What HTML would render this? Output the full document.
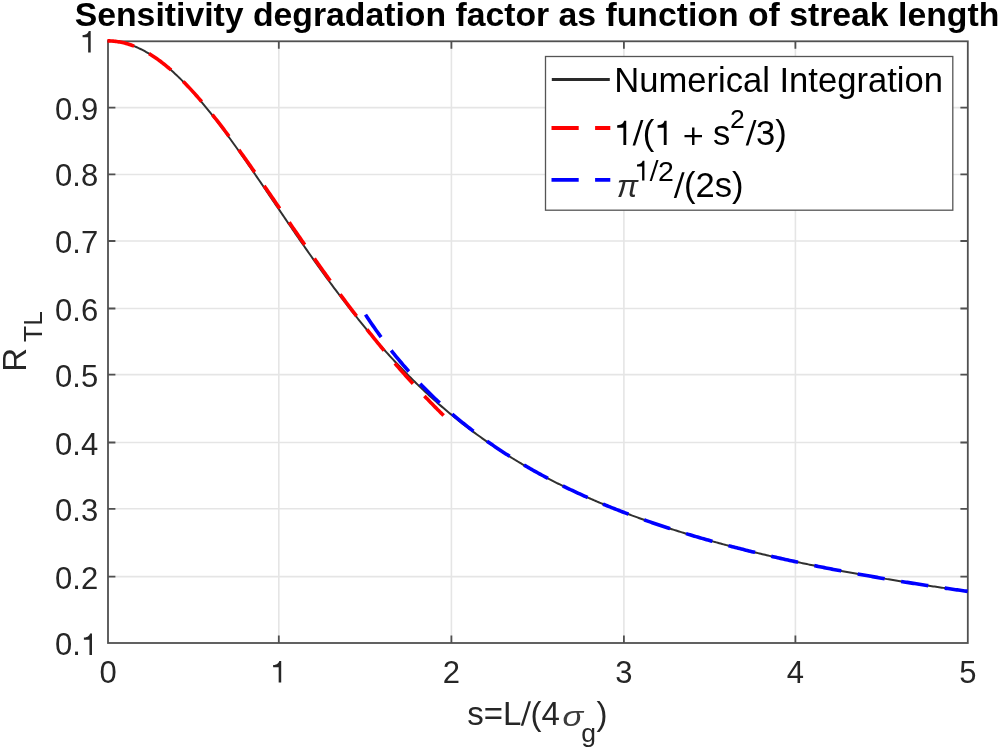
<!DOCTYPE html>
<html><head><meta charset="utf-8"><style>
html,body{margin:0;padding:0;background:#fff;}
svg{display:block;filter:blur(0.45px);}
text{font-family:"Liberation Sans",sans-serif;font-kerning:none;}
</style></head><body>
<svg width="999" height="749" viewBox="0 0 999 749">
<rect width="999" height="749" fill="#fff"/>
<path d="M278.80,41.30V643.00 M451.40,41.30V643.00 M623.90,41.30V643.00 M795.40,41.30V643.00 M108.00,576.60H967.80 M108.00,508.80H967.80 M108.00,442.50H967.80 M108.00,374.60H967.80 M108.00,308.50H967.80 M108.00,241.00H967.80 M108.00,174.45H967.80 M108.00,107.66H967.80" stroke="#e5e5e5" stroke-width="1.6" fill="none"/>
<g fill="none" stroke="#505050" stroke-width="1.8">
<path d="M278.80,643.00v-7.40 M278.80,41.30v7.40 M451.40,643.00v-7.40 M451.40,41.30v7.40 M623.90,643.00v-7.40 M623.90,41.30v7.40 M795.40,643.00v-7.40 M795.40,41.30v7.40 M108.00,576.60h7.40 M967.80,576.60h-7.40 M108.00,508.80h7.40 M967.80,508.80h-7.40 M108.00,442.50h7.40 M967.80,442.50h-7.40 M108.00,374.60h7.40 M967.80,374.60h-7.40 M108.00,308.50h7.40 M967.80,308.50h-7.40 M108.00,241.00h7.40 M967.80,241.00h-7.40 M108.00,174.45h7.40 M967.80,174.45h-7.40 M108.00,107.66h7.40 M967.80,107.66h-7.40"/>
<rect x="108.00" y="41.30" width="859.80" height="601.70"/>
</g>
<path d="M107.46,40.85 L108.90,40.87 L110.33,40.91 L111.77,40.99 L113.20,41.10 L114.64,41.24 L116.08,41.41 L117.51,41.61 L118.95,41.84 L120.38,42.11 L121.82,42.40 L123.26,42.73 L124.69,43.08 L126.13,43.47 L127.56,43.88 L129.00,44.33 L130.44,44.81 L131.87,45.31 L133.31,45.85 L134.75,46.42 L136.18,47.01 L137.62,47.64 L139.05,48.30 L140.49,48.98 L141.93,49.69 L143.36,50.44 L144.80,51.21 L146.23,52.01 L147.67,52.84 L149.11,53.69 L150.54,54.58 L151.98,55.49 L153.41,56.43 L154.85,57.39 L156.29,58.39 L157.72,59.41 L159.16,60.46 L160.59,61.53 L162.03,62.63 L163.47,63.75 L164.90,64.90 L166.34,66.08 L167.77,67.28 L169.21,68.51 L170.65,69.76 L172.08,71.03 L173.52,72.33 L174.95,73.65 L176.39,74.99 L177.83,76.36 L179.26,77.75 L180.70,79.16 L182.14,80.60 L183.57,82.05 L185.01,83.53 L186.44,85.03 L187.88,86.55 L189.32,88.09 L190.75,89.65 L192.19,91.23 L193.62,92.82 L195.06,94.44 L196.50,96.08 L197.93,97.73 L199.37,99.40 L200.80,101.09 L202.24,102.80 L203.68,104.52 L205.11,106.26 L206.55,108.02 L207.98,109.79 L209.42,111.58 L210.86,113.38 L212.29,115.20 L213.73,117.03 L215.16,118.87 L216.60,120.73 L218.04,122.61 L219.47,124.49 L220.91,126.39 L222.34,128.30 L223.78,130.22 L225.22,132.15 L226.65,134.10 L228.09,136.05 L229.53,138.02 L230.96,139.99 L232.40,141.98 L233.83,143.97 L235.27,145.98 L236.71,147.99 L238.14,150.01 L239.58,152.04 L241.01,154.07 L242.45,156.11 L243.89,158.16 L245.32,160.22 L246.76,162.28 L248.19,164.35 L249.63,166.42 L251.07,168.50 L252.50,170.58 L253.94,172.67 L255.37,174.76 L256.81,176.86 L258.25,178.96 L259.68,181.06 L261.12,183.17 L262.55,185.28 L263.99,187.39 L265.43,189.50 L266.86,191.61 L268.30,193.73 L269.73,195.85 L271.17,197.96 L272.61,200.08 L274.04,202.20 L275.48,204.32 L276.92,206.44 L278.35,208.55 L279.79,210.67 L281.22,212.79 L282.66,214.90 L284.10,217.01 L285.53,219.12 L286.97,221.23 L288.40,223.34 L289.84,225.44 L291.28,227.54 L292.71,229.64 L294.15,231.74 L295.58,233.83 L297.02,235.92 L298.46,238.00 L299.89,240.08 L301.33,242.15 L302.76,244.23 L304.20,246.29 L305.64,248.35 L307.07,250.41 L308.51,252.46 L309.94,254.50 L311.38,256.54 L312.82,258.58 L314.25,260.61 L315.69,262.63 L317.12,264.64 L318.56,266.65 L320.00,268.65 L321.43,270.65 L322.87,272.64 L324.31,274.62 L325.74,276.59 L327.18,278.56 L328.61,280.52 L330.05,282.47 L331.49,284.42 L332.92,286.36 L334.36,288.28 L335.79,290.21 L337.23,292.12 L338.67,294.02 L340.10,295.92 L341.54,297.81 L342.97,299.69 L344.41,301.56 L345.85,303.42 L347.28,305.27 L348.72,307.12 L350.15,308.95 L351.59,310.78 L353.03,312.60 L354.46,314.41 L355.90,316.21 L357.33,318.00 L358.77,319.78 L360.21,321.55 L361.64,323.32 L363.08,325.07 L364.51,326.81 L365.95,328.55 L367.39,330.27 L368.82,331.99 L370.26,333.70 L371.70,335.39 L373.13,337.08 L374.57,338.76 L376.00,340.42 L377.44,342.08 L378.88,343.73 L380.31,345.37 L381.75,347.00 L383.18,348.62 L384.62,350.23 L386.06,351.83 L387.49,353.42 L388.93,355.00 L390.36,356.57 L391.80,358.13 L393.24,359.69 L394.67,361.23 L396.11,362.76 L397.54,364.28 L398.98,365.80 L400.42,367.30 L401.85,368.80 L403.29,370.28 L404.72,371.76 L406.16,373.22 L407.60,374.68 L409.03,376.12 L410.47,377.56 L411.90,378.99 L413.34,380.41 L414.78,381.82 L416.21,383.22 L417.65,384.61 L419.09,385.99 L420.52,387.36 L421.96,388.73 L423.39,390.08 L424.83,391.42 L426.27,392.76 L427.70,394.09 L429.14,395.41 L430.57,396.71 L432.01,398.02 L433.45,399.31 L434.88,400.59 L436.32,401.86 L437.75,403.13 L439.19,404.39 L440.63,405.63 L442.06,406.87 L443.50,408.10 L444.93,409.33 L446.37,410.54 L447.81,411.75 L449.24,412.94 L450.68,414.13 L452.11,415.32 L453.55,416.49 L454.99,417.65 L456.42,418.81 L457.86,419.96 L459.29,421.10 L460.73,422.23 L462.17,423.36 L463.60,424.48 L465.04,425.59 L466.48,426.69 L467.91,427.79 L469.35,428.87 L470.78,429.95 L472.22,431.02 L473.66,432.09 L475.09,433.15 L476.53,434.20 L477.96,435.24 L479.40,436.28 L480.84,437.31 L482.27,438.33 L483.71,439.34 L485.14,440.35 L486.58,441.35 L488.02,442.35 L489.45,443.33 L490.89,444.31 L492.32,445.29 L493.76,446.26 L495.20,447.22 L496.63,448.17 L498.07,449.12 L499.50,450.06 L500.94,451.00 L502.38,451.92 L503.81,452.85 L505.25,453.76 L506.68,454.67 L508.12,455.58 L509.56,456.48 L510.99,457.37 L512.43,458.25 L513.87,459.13 L515.30,460.01 L516.74,460.88 L518.17,461.74 L519.61,462.60 L521.05,463.45 L522.48,464.30 L523.92,465.14 L525.35,465.97 L526.79,466.80 L528.23,467.62 L529.66,468.44 L531.10,469.26 L532.53,470.06 L533.97,470.87 L535.41,471.66 L536.84,472.46 L538.28,473.24 L539.71,474.03 L541.15,474.80 L542.59,475.58 L544.02,476.34 L545.46,477.10 L546.89,477.86 L548.33,478.62 L549.77,479.36 L551.20,480.11 L552.64,480.85 L554.07,481.58 L555.51,482.31 L556.95,483.03 L558.38,483.75 L559.82,484.47 L561.25,485.18 L562.69,485.89 L564.13,486.59 L565.56,487.29 L567.00,487.98 L568.44,488.67 L569.87,489.36 L571.31,490.04 L572.74,490.72 L574.18,491.39 L575.62,492.06 L577.05,492.73 L578.49,493.39 L579.92,494.04 L581.36,494.70 L582.80,495.35 L584.23,495.99 L585.67,496.63 L587.10,497.27 L588.54,497.90 L589.98,498.53 L591.41,499.16 L592.85,499.78 L594.28,500.40 L595.72,501.02 L597.16,501.63 L598.59,502.24 L600.03,502.84 L601.46,503.45 L602.90,504.04 L604.34,504.64 L605.77,505.23 L607.21,505.82 L608.64,506.40 L610.08,506.98 L611.52,507.56 L612.95,508.14 L614.39,508.71 L615.83,509.28 L617.26,509.84 L618.70,510.40 L620.13,510.96 L621.57,511.52 L623.01,512.07 L624.44,512.62 L625.88,513.16 L627.31,513.71 L628.75,514.25 L630.19,514.79 L631.62,515.32 L633.06,515.85 L634.49,516.38 L635.93,516.91 L637.37,517.43 L638.80,517.95 L640.24,518.47 L641.67,518.98 L643.11,519.49 L644.55,520.00 L645.98,520.51 L647.42,521.01 L648.85,521.51 L650.29,522.01 L651.73,522.51 L653.16,523.00 L654.60,523.49 L656.03,523.98 L657.47,524.47 L658.91,524.95 L660.34,525.43 L661.78,525.91 L663.22,526.38 L664.65,526.86 L666.09,527.33 L667.52,527.79 L668.96,528.26 L670.40,528.72 L671.83,529.18 L673.27,529.64 L674.70,530.10 L676.14,530.55 L677.58,531.01 L679.01,531.45 L680.45,531.90 L681.88,532.35 L683.32,532.79 L684.76,533.23 L686.19,533.67 L687.63,534.11 L689.06,534.54 L690.50,534.97 L691.94,535.40 L693.37,535.83 L694.81,536.25 L696.24,536.68 L697.68,537.10 L699.12,537.52 L700.55,537.94 L701.99,538.35 L703.42,538.77 L704.86,539.18 L706.30,539.59 L707.73,539.99 L709.17,540.40 L710.61,540.80 L712.04,541.21 L713.48,541.61 L714.91,542.00 L716.35,542.40 L717.79,542.79 L719.22,543.19 L720.66,543.58 L722.09,543.97 L723.53,544.35 L724.97,544.74 L726.40,545.12 L727.84,545.50 L729.27,545.88 L730.71,546.26 L732.15,546.64 L733.58,547.01 L735.02,547.38 L736.45,547.75 L737.89,548.12 L739.33,548.49 L740.76,548.86 L742.20,549.22 L743.63,549.59 L745.07,549.95 L746.51,550.31 L747.94,550.66 L749.38,551.02 L750.81,551.37 L752.25,551.73 L753.69,552.08 L755.12,552.43 L756.56,552.78 L758.00,553.12 L759.43,553.47 L760.87,553.81 L762.30,554.16 L763.74,554.50 L765.18,554.84 L766.61,555.17 L768.05,555.51 L769.48,555.85 L770.92,556.18 L772.36,556.51 L773.79,556.84 L775.23,557.17 L776.66,557.50 L778.10,557.83 L779.54,558.15 L780.97,558.47 L782.41,558.80 L783.84,559.12 L785.28,559.44 L786.72,559.76 L788.15,560.07 L789.59,560.39 L791.02,560.70 L792.46,561.01 L793.90,561.33 L795.33,561.64 L796.77,561.95 L798.20,562.25 L799.64,562.56 L801.08,562.86 L802.51,563.17 L803.95,563.47 L805.39,563.77 L806.82,564.07 L808.26,564.37 L809.69,564.67 L811.13,564.97 L812.57,565.26 L814.00,565.56 L815.44,565.85 L816.87,566.14 L818.31,566.43 L819.75,566.72 L821.18,567.01 L822.62,567.29 L824.05,567.58 L825.49,567.87 L826.93,568.15 L828.36,568.43 L829.80,568.71 L831.23,568.99 L832.67,569.27 L834.11,569.55 L835.54,569.83 L836.98,570.10 L838.41,570.38 L839.85,570.65 L841.29,570.92 L842.72,571.20 L844.16,571.47 L845.59,571.74 L847.03,572.00 L848.47,572.27 L849.90,572.54 L851.34,572.80 L852.78,573.07 L854.21,573.33 L855.65,573.59 L857.08,573.85 L858.52,574.11 L859.96,574.37 L861.39,574.63 L862.83,574.89 L864.26,575.14 L865.70,575.40 L867.14,575.65 L868.57,575.91 L870.01,576.16 L871.44,576.41 L872.88,576.66 L874.32,576.91 L875.75,577.16 L877.19,577.41 L878.62,577.65 L880.06,577.90 L881.50,578.15 L882.93,578.39 L884.37,578.63 L885.80,578.87 L887.24,579.12 L888.68,579.36 L890.11,579.60 L891.55,579.84 L892.98,580.07 L894.42,580.31 L895.86,580.55 L897.29,580.78 L898.73,581.02 L900.17,581.25 L901.60,581.48 L903.04,581.71 L904.47,581.94 L905.91,582.18 L907.35,582.40 L908.78,582.63 L910.22,582.86 L911.65,583.09 L913.09,583.31 L914.53,583.54 L915.96,583.76 L917.40,583.99 L918.83,584.21 L920.27,584.43 L921.71,584.65 L923.14,584.87 L924.58,585.09 L926.01,585.31 L927.45,585.53 L928.89,585.75 L930.32,585.97 L931.76,586.18 L933.19,586.40 L934.63,586.61 L936.07,586.83 L937.50,587.04 L938.94,587.25 L940.37,587.46 L941.81,587.67 L943.25,587.88 L944.68,588.09 L946.12,588.30 L947.56,588.51 L948.99,588.72 L950.43,588.92 L951.86,589.13 L953.30,589.33 L954.74,589.54 L956.17,589.74 L957.61,589.94 L959.04,590.15 L960.48,590.35 L961.92,590.55 L963.35,590.75 L964.79,590.95 L966.22,591.15 L967.66,591.35" fill="none" stroke="#303030" stroke-width="2" stroke-linejoin="round"/>
<path d="M107.46,40.85 L108.61,40.86 L109.76,40.89 L110.91,40.94 L112.06,41.01 L113.21,41.10 L114.36,41.21 L115.52,41.34 L116.67,41.49 L117.82,41.66 L118.97,41.85 L120.12,42.06 L121.27,42.28 L122.42,42.53 L123.57,42.80 L124.72,43.09 L125.87,43.39 L127.02,43.72 L128.17,44.07 L129.32,44.43 L130.48,44.82 L131.63,45.22 L132.78,45.65 L133.93,46.09 L135.08,46.55 L136.23,47.03 L137.38,47.53 L138.53,48.05 L139.68,48.58 L140.83,49.14 L141.98,49.71 L143.13,50.30 L144.28,50.91 L145.44,51.54 L146.59,52.19 L147.74,52.85 L148.89,53.54 L150.04,54.24 L151.19,54.96 L152.34,55.69 L153.49,56.44 L154.64,57.21 L155.79,58.00 L156.94,58.81 L158.09,59.63 L159.24,60.46 L160.40,61.32 L161.55,62.19 L162.70,63.08 L163.85,63.98 L165.00,64.90 L166.15,65.84 L167.30,66.79 L168.45,67.75 L169.60,68.74 L170.75,69.73 L171.90,70.75 L173.05,71.77 L174.20,72.82 L175.36,73.87 L176.51,74.94 L177.66,76.03 L178.81,77.13 L179.96,78.24 L181.11,79.37 L182.26,80.51 L183.41,81.67 L184.56,82.83 L185.71,84.02 L186.86,85.21 L188.01,86.42 L189.16,87.64 L190.32,88.87 L191.47,90.11 L192.62,91.37 L193.77,92.64 L194.92,93.92 L196.07,95.21 L197.22,96.51 L198.37,97.82 L199.52,99.15 L200.67,100.49 L201.82,101.83 L202.97,103.19 L204.12,104.56 L205.28,105.93 L206.43,107.32 L207.58,108.72 L208.73,110.13 L209.88,111.54 L211.03,112.97 L212.18,114.40 L213.33,115.84 L214.48,117.30 L215.63,118.76 L216.78,120.23 L217.93,121.70 L219.08,123.19 L220.24,124.68 L221.39,126.18 L222.54,127.69 L223.69,129.20 L224.84,130.72 L225.99,132.25 L227.14,133.79 L228.29,135.33 L229.44,136.88 L230.59,138.44 L231.74,140.00 L232.89,141.56 L234.04,143.14 L235.20,144.71 L236.35,146.30 L237.50,147.89 L238.65,149.48 L239.80,151.08 L240.95,152.68 L242.10,154.29 L243.25,155.90 L244.40,157.52 L245.55,159.14 L246.70,160.77 L247.85,162.39 L249.00,164.03 L250.16,165.66 L251.31,167.30 L252.46,168.94 L253.61,170.59 L254.76,172.24 L255.91,173.89 L257.06,175.54 L258.21,177.20 L259.36,178.86 L260.51,180.52 L261.66,182.18 L262.81,183.85 L263.96,185.51 L265.12,187.18 L266.27,188.85 L267.42,190.52 L268.57,192.20 L269.72,193.87 L270.87,195.54 L272.02,197.22 L273.17,198.89 L274.32,200.57 L275.47,202.25 L276.62,203.93 L277.77,205.61 L278.92,207.28 L280.08,208.96 L281.23,210.64 L282.38,212.32 L283.53,214.00 L284.68,215.67 L285.83,217.35 L286.98,219.03 L288.13,220.70 L289.28,222.38 L290.43,224.05 L291.58,225.72 L292.73,227.40 L293.88,229.07 L295.04,230.74 L296.19,232.40 L297.34,234.07 L298.49,235.74 L299.64,237.40 L300.79,239.06 L301.94,240.72 L303.09,242.38 L304.24,244.03 L305.39,245.69 L306.54,247.34 L307.69,248.99 L308.84,250.63 L310.00,252.28 L311.15,253.92 L312.30,255.56 L313.45,257.20 L314.60,258.83 L315.75,260.46 L316.90,262.09 L318.05,263.72 L319.20,265.34 L320.35,266.96 L321.50,268.58 L322.65,270.19 L323.80,271.80 L324.96,273.41 L326.11,275.01 L327.26,276.61 L328.41,278.21 L329.56,279.80 L330.71,281.39 L331.86,282.98 L333.01,284.56 L334.16,286.14 L335.31,287.72 L336.46,289.29 L337.61,290.86 L338.76,292.42 L339.92,293.98 L341.07,295.54 L342.22,297.09 L343.37,298.64 L344.52,300.18 L345.67,301.72 L346.82,303.26 L347.97,304.79 L349.12,306.32 L350.27,307.84 L351.42,309.36 L352.57,310.87 L353.72,312.38 L354.88,313.89 L356.03,315.39 L357.18,316.89 L358.33,318.38 L359.48,319.87 L360.63,321.35 L361.78,322.83 L362.93,324.30 L364.08,325.77 L365.23,327.24 L366.38,328.70 L367.53,330.15 L368.68,331.60 L369.84,333.05 L370.99,334.49 L372.14,335.93 L373.29,337.36 L374.44,338.79 L375.59,340.21 L376.74,341.63 L377.89,343.04 L379.04,344.45 L380.19,345.85 L381.34,347.25 L382.49,348.64 L383.64,350.03 L384.80,351.41 L385.95,352.79 L387.10,354.17 L388.25,355.53 L389.40,356.90 L390.55,358.26 L391.70,359.61 L392.85,360.96 L394.00,362.30 L395.15,363.64 L396.30,364.98 L397.45,366.31 L398.60,367.63 L399.76,368.95 L400.91,370.26 L402.06,371.57 L403.21,372.88 L404.36,374.18 L405.51,375.47 L406.66,376.76 L407.81,378.04 L408.96,379.32 L410.11,380.60 L411.26,381.87 L412.41,383.13 L413.56,384.39 L414.72,385.64 L415.87,386.89 L417.02,388.14 L418.17,389.38 L419.32,390.61 L420.47,391.84 L421.62,393.07 L422.77,394.29 L423.92,395.50 L425.07,396.71 L426.22,397.91 L427.37,399.11 L428.52,400.31 L429.68,401.50 L430.83,402.68 L431.98,403.86 L433.13,405.04 L434.28,406.21 L435.43,407.38 L436.58,408.54 L437.73,409.69 L438.88,410.84 L440.03,411.99 L441.18,413.13 L442.33,414.27 L443.48,415.40 L444.64,416.53 L445.79,417.65 L446.94,418.77 L448.09,419.88 L449.24,420.99 L450.39,422.09 L451.54,423.19" fill="none" stroke="#ff0000" stroke-width="3.6" stroke-dasharray="27.4 16.7"/>
<path d="M365.52,314.63 L367.03,316.93 L368.54,319.20 L370.05,321.45 L371.56,323.67 L373.07,325.86 L374.57,328.03 L376.08,330.18 L377.59,332.30 L379.10,334.40 L380.61,336.47 L382.12,338.52 L383.63,340.55 L385.14,342.56 L386.65,344.54 L388.16,346.51 L389.67,348.45 L391.18,350.38 L392.68,352.28 L394.19,354.16 L395.70,356.02 L397.21,357.87 L398.72,359.69 L400.23,361.50 L401.74,363.28 L403.25,365.05 L404.76,366.80 L406.27,368.54 L407.78,370.25 L409.28,371.95 L410.79,373.63 L412.30,375.30 L413.81,376.94 L415.32,378.58 L416.83,380.19 L418.34,381.79 L419.85,383.38 L421.36,384.95 L422.87,386.50 L424.38,388.04 L425.88,389.57 L427.39,391.08 L428.90,392.58 L430.41,394.06 L431.92,395.53 L433.43,396.99 L434.94,398.43 L436.45,399.86 L437.96,401.27 L439.47,402.68 L440.98,404.07 L442.49,405.44 L443.99,406.81 L445.50,408.16 L447.01,409.50 L448.52,410.83 L450.03,412.15 L451.54,413.46 L453.05,414.75 L454.56,416.04 L456.07,417.31 L457.58,418.57 L459.09,419.82 L460.59,421.06 L462.10,422.29 L463.61,423.51 L465.12,424.72 L466.63,425.91 L468.14,427.10 L469.65,428.28 L471.16,429.45 L472.67,430.61 L474.18,431.76 L475.69,432.90 L477.20,434.03 L478.70,435.15 L480.21,436.26 L481.72,437.37 L483.23,438.46 L484.74,439.55 L486.25,440.62 L487.76,441.69 L489.27,442.75 L490.78,443.81 L492.29,444.85 L493.80,445.89 L495.30,446.91 L496.81,447.93 L498.32,448.94 L499.83,449.95 L501.34,450.94 L502.85,451.93 L504.36,452.91 L505.87,453.89 L507.38,454.85 L508.89,455.81 L510.40,456.76 L511.90,457.71 L513.41,458.65 L514.92,459.58 L516.43,460.50 L517.94,461.42 L519.45,462.33 L520.96,463.23 L522.47,464.13 L523.98,465.02 L525.49,465.90 L527.00,466.78 L528.51,467.65 L530.01,468.52 L531.52,469.38 L533.03,470.23 L534.54,471.08 L536.05,471.92 L537.56,472.75 L539.07,473.58 L540.58,474.41 L542.09,475.22 L543.60,476.04 L545.11,476.84 L546.61,477.64 L548.12,478.44 L549.63,479.23 L551.14,480.01 L552.65,480.79 L554.16,481.57 L555.67,482.34 L557.18,483.10 L558.69,483.86 L560.20,484.61 L561.71,485.36 L563.22,486.11 L564.72,486.84 L566.23,487.58 L567.74,488.31 L569.25,489.03 L570.76,489.75 L572.27,490.47 L573.78,491.18 L575.29,491.88 L576.80,492.58 L578.31,493.28 L579.82,493.97 L581.32,494.66 L582.83,495.34 L584.34,496.02 L585.85,496.70 L587.36,497.37 L588.87,498.03 L590.38,498.70 L591.89,499.35 L593.40,500.01 L594.91,500.66 L596.42,501.30 L597.92,501.95 L599.43,502.58 L600.94,503.22 L602.45,503.85 L603.96,504.47 L605.47,505.10 L606.98,505.72 L608.49,506.33 L610.00,506.94 L611.51,507.55 L613.02,508.15 L614.53,508.76 L616.03,509.35 L617.54,509.95 L619.05,510.54 L620.56,511.12 L622.07,511.71 L623.58,512.28 L625.09,512.86 L626.60,513.43 L628.11,514.00 L629.62,514.57 L631.13,515.13 L632.63,515.69 L634.14,516.25 L635.65,516.80 L637.16,517.35 L638.67,517.90 L640.18,518.44 L641.69,518.98 L643.20,519.52 L644.71,520.06 L646.22,520.59 L647.73,521.12 L649.24,521.64 L650.74,522.17 L652.25,522.69 L653.76,523.20 L655.27,523.72 L656.78,524.23 L658.29,524.74 L659.80,525.25 L661.31,525.75 L662.82,526.25 L664.33,526.75 L665.84,527.24 L667.34,527.73 L668.85,528.22 L670.36,528.71 L671.87,529.20 L673.38,529.68 L674.89,530.16 L676.40,530.63 L677.91,531.11 L679.42,531.58 L680.93,532.05 L682.44,532.52 L683.94,532.98 L685.45,533.44 L686.96,533.90 L688.47,534.36 L689.98,534.82 L691.49,535.27 L693.00,535.72 L694.51,536.17 L696.02,536.61 L697.53,537.05 L699.04,537.50 L700.55,537.93 L702.05,538.37 L703.56,538.81 L705.07,539.24 L706.58,539.67 L708.09,540.10 L709.60,540.52 L711.11,540.94 L712.62,541.37 L714.13,541.79 L715.64,542.20 L717.15,542.62 L718.65,543.03 L720.16,543.44 L721.67,543.85 L723.18,544.26 L724.69,544.66 L726.20,545.07 L727.71,545.47 L729.22,545.87 L730.73,546.26 L732.24,546.66 L733.75,547.05 L735.26,547.44 L736.76,547.83 L738.27,548.22 L739.78,548.61 L741.29,548.99 L742.80,549.37 L744.31,549.75 L745.82,550.13 L747.33,550.51 L748.84,550.89 L750.35,551.26 L751.86,551.63 L753.36,552.00 L754.87,552.37 L756.38,552.74 L757.89,553.10 L759.40,553.46 L760.91,553.82 L762.42,554.18 L763.93,554.54 L765.44,554.90 L766.95,555.25 L768.46,555.61 L769.96,555.96 L771.47,556.31 L772.98,556.66 L774.49,557.00 L776.00,557.35 L777.51,557.69 L779.02,558.03 L780.53,558.37 L782.04,558.71 L783.55,559.05 L785.06,559.39 L786.57,559.72 L788.07,560.06 L789.58,560.39 L791.09,560.72 L792.60,561.05 L794.11,561.37 L795.62,561.70 L797.13,562.02 L798.64,562.35 L800.15,562.67 L801.66,562.99 L803.17,563.31 L804.67,563.62 L806.18,563.94 L807.69,564.25 L809.20,564.57 L810.71,564.88 L812.22,565.19 L813.73,565.50 L815.24,565.81 L816.75,566.11 L818.26,566.42 L819.77,566.72 L821.28,567.03 L822.78,567.33 L824.29,567.63 L825.80,567.93 L827.31,568.22 L828.82,568.52 L830.33,568.82 L831.84,569.11 L833.35,569.40 L834.86,569.70 L836.37,569.99 L837.88,570.27 L839.38,570.56 L840.89,570.85 L842.40,571.13 L843.91,571.42 L845.42,571.70 L846.93,571.98 L848.44,572.27 L849.95,572.55 L851.46,572.82 L852.97,573.10 L854.48,573.38 L855.98,573.65 L857.49,573.93 L859.00,574.20 L860.51,574.47 L862.02,574.74 L863.53,575.01 L865.04,575.28 L866.55,575.55 L868.06,575.82 L869.57,576.08 L871.08,576.35 L872.59,576.61 L874.09,576.87 L875.60,577.13 L877.11,577.39 L878.62,577.65 L880.13,577.91 L881.64,578.17 L883.15,578.43 L884.66,578.68 L886.17,578.94 L887.68,579.19 L889.19,579.44 L890.69,579.69 L892.20,579.94 L893.71,580.19 L895.22,580.44 L896.73,580.69 L898.24,580.94 L899.75,581.18 L901.26,581.43 L902.77,581.67 L904.28,581.91 L905.79,582.16 L907.30,582.40 L908.80,582.64 L910.31,582.88 L911.82,583.11 L913.33,583.35 L914.84,583.59 L916.35,583.82 L917.86,584.06 L919.37,584.29 L920.88,584.53 L922.39,584.76 L923.90,584.99 L925.40,585.22 L926.91,585.45 L928.42,585.68 L929.93,585.91 L931.44,586.13 L932.95,586.36 L934.46,586.59 L935.97,586.81 L937.48,587.03 L938.99,587.26 L940.50,587.48 L942.00,587.70 L943.51,587.92 L945.02,588.14 L946.53,588.36 L948.04,588.58 L949.55,588.80 L951.06,589.01 L952.57,589.23 L954.08,589.44 L955.59,589.66 L957.10,589.87 L958.61,590.09 L960.11,590.30 L961.62,590.51 L963.13,590.72 L964.64,590.93 L966.15,591.14 L967.66,591.35" fill="none" stroke="#0000ff" stroke-width="3.6" stroke-dasharray="27.4 16.7"/>
<path d="M0.274,0 L0.356,0 L0.356,0.697 L0.293,0.697 C0.279,0.64 0.238,0.575 0.095,0.565 L0.095,0.495 L0.274,0.495 Z" transform="translate(79.66,52.50) scale(31.000,-31.000)" fill="#262626"/>
<text y="119.66" font-size="31.00" fill="#262626" xml:space="preserve"><tspan x="55.11">0.9</tspan></text>
<text y="186.45" font-size="31.00" fill="#262626" xml:space="preserve"><tspan x="55.11">0.8</tspan></text>
<text y="253.00" font-size="31.00" fill="#262626" xml:space="preserve"><tspan x="55.11">0.7</tspan></text>
<text y="320.50" font-size="31.00" fill="#262626" xml:space="preserve"><tspan x="55.11">0.6</tspan></text>
<text y="386.60" font-size="31.00" fill="#262626" xml:space="preserve"><tspan x="55.11">0.5</tspan></text>
<text y="454.50" font-size="31.00" fill="#262626" xml:space="preserve"><tspan x="55.11">0.4</tspan></text>
<text y="520.80" font-size="31.00" fill="#262626" xml:space="preserve"><tspan x="55.11">0.3</tspan></text>
<text y="588.60" font-size="31.00" fill="#262626" xml:space="preserve"><tspan x="55.11">0.2</tspan></text>
<text y="655.00" font-size="31.00" fill="#262626" xml:space="preserve"><tspan x="55.11">0.</tspan></text>
<path d="M0.274,0 L0.356,0 L0.356,0.697 L0.293,0.697 C0.279,0.64 0.238,0.575 0.095,0.565 L0.095,0.495 L0.274,0.495 Z" transform="translate(80.96,655.00) scale(31.000,-31.000)" fill="#262626"/>
<text y="682.50" font-size="31.00" fill="#262626" xml:space="preserve"><tspan x="99.38">0</tspan></text>
<path d="M0.274,0 L0.356,0 L0.356,0.697 L0.293,0.697 C0.279,0.64 0.238,0.575 0.095,0.565 L0.095,0.495 L0.274,0.495 Z" transform="translate(270.18,682.50) scale(31.000,-31.000)" fill="#262626"/>
<text y="682.50" font-size="31.00" fill="#262626" xml:space="preserve"><tspan x="442.78">2</tspan></text>
<text y="682.50" font-size="31.00" fill="#262626" xml:space="preserve"><tspan x="615.28">3</tspan></text>
<text y="682.50" font-size="31.00" fill="#262626" xml:space="preserve"><tspan x="786.78">4</tspan></text>
<text y="682.50" font-size="31.00" fill="#262626" xml:space="preserve"><tspan x="959.18">5</tspan></text>
<text x="74.73" y="26.40" font-size="33.75" fill="#000" font-weight="bold">Sensitivity degradation factor as function of streak length</text>
<text y="725.20" font-size="33.00" fill="#262626" xml:space="preserve"><tspan x="467.20">s=L</tspan><tspan x="530.49">(4</tspan></text>
<path d="M-0.017,-0.019 L0.058,-0.019 L0.295,0.722 L0.22,0.722 Z" transform="translate(521.32,725.20) scale(33.000,-33.000)" fill="#262626"/>
<text transform="translate(562.40,725.80) scale(1.2,1)" font-size="28.6" font-family="Liberation Serif, serif" font-style="italic" fill="#3c3c3c">σ</text>
<text y="741.50" font-size="26.50" fill="#262626" xml:space="preserve"><tspan x="581.19">g</tspan></text>
<text y="725.20" font-size="33.00" fill="#262626" xml:space="preserve"><tspan x="596.41">)</tspan></text>
<text transform="translate(25.8,371.8) rotate(-90)" font-size="33" fill="#262626">R<tspan dx="6" dy="16.6" font-size="26.4">TL</tspan></text>
<rect x="545.5" y="56.5" width="407.3" height="153.7" fill="#fff" stroke="#555" stroke-width="1.3"/>
<path d="M551.8,79.5H609.8" stroke="#2a2a2a" stroke-width="3" fill="none"/>
<path d="M551.5,128H578.7M595.1,128H610.3" stroke="#ff0000" stroke-width="3.9" fill="none"/>
<path d="M551.5,179.9H578.7M595.1,179.9H610.3" stroke="#0000ff" stroke-width="3.9" fill="none"/>
<text y="92.20" font-size="34.60" fill="#000" xml:space="preserve"><tspan x="614.26">Numerical Integration</tspan></text>
<text y="144.90" font-size="34.60" fill="#000" xml:space="preserve"><tspan x="642.77">(</tspan><tspan x="703.35"> s</tspan></text>
<path d="M0.274,0 L0.356,0 L0.356,0.697 L0.293,0.697 C0.279,0.64 0.238,0.575 0.095,0.565 L0.095,0.495 L0.274,0.495 Z" transform="translate(613.91,144.90) scale(34.600,-34.600)" fill="#000"/>
<path d="M-0.017,-0.019 L0.058,-0.019 L0.295,0.722 L0.22,0.722 Z" transform="translate(633.16,144.90) scale(34.600,-34.600)" fill="#000"/>
<path d="M0.274,0 L0.356,0 L0.356,0.697 L0.293,0.697 C0.279,0.64 0.238,0.575 0.095,0.565 L0.095,0.495 L0.274,0.495 Z" transform="translate(654.29,144.90) scale(34.600,-34.600)" fill="#000"/>
<path d="M0.257,0 L0.327,0 L0.327,0.218 L0.545,0.218 L0.545,0.287 L0.327,0.287 L0.327,0.505 L0.257,0.505 L0.257,0.287 L0.039,0.287 L0.039,0.218 L0.257,0.218 Z" transform="translate(683.15,144.90) scale(34.600,-34.600)" fill="#000"/>
<text y="127.90" font-size="26.50" fill="#000" xml:space="preserve"><tspan x="729.97">2</tspan></text>
<text y="144.90" font-size="34.60" fill="#000" xml:space="preserve"><tspan x="755.91">3)</tspan></text>
<path d="M-0.017,-0.019 L0.058,-0.019 L0.295,0.722 L0.22,0.722 Z" transform="translate(746.30,144.90) scale(34.600,-34.600)" fill="#000"/>
<text x="616.83" y="196.90" font-size="32" font-family="Liberation Serif, serif" font-style="italic" fill="#2a2a2a">π</text>
<text y="180.50" font-size="28.50" fill="#000" xml:space="preserve"><tspan x="658.06">2</tspan></text>
<path d="M0.274,0 L0.356,0 L0.356,0.697 L0.293,0.697 C0.279,0.64 0.238,0.575 0.095,0.565 L0.095,0.495 L0.274,0.495 Z" transform="translate(634.29,180.50) scale(28.500,-28.500)" fill="#000"/>
<path d="M-0.017,-0.019 L0.058,-0.019 L0.295,0.722 L0.22,0.722 Z" transform="translate(650.14,180.50) scale(28.500,-28.500)" fill="#000"/>
<text y="197.30" font-size="34.60" fill="#000" xml:space="preserve"><tspan x="684.01">(2s)</tspan></text>
<path d="M-0.017,-0.019 L0.058,-0.019 L0.295,0.722 L0.22,0.722 Z" transform="translate(674.40,197.30) scale(34.600,-34.600)" fill="#000"/>
</svg>
</body></html>
